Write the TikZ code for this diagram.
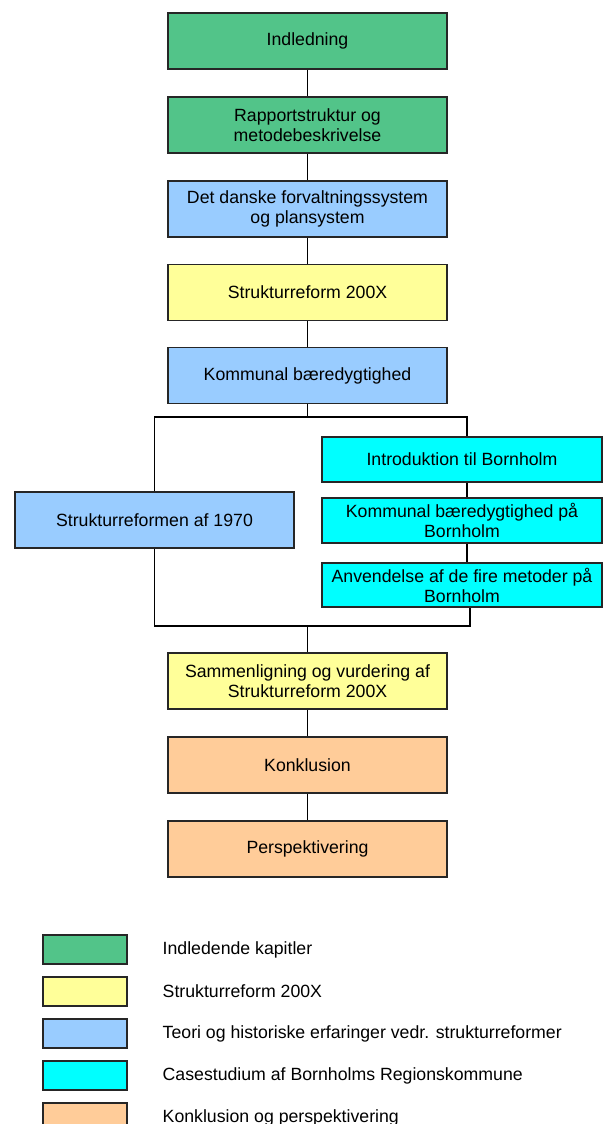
\documentclass[tikz,border=0pt]{standalone}
\usepackage{fontspec}
\setmainfont{Liberation Sans}
\definecolor{introgreen}{RGB}{82,196,137}
\definecolor{reformyellow}{RGB}{255,255,153}
\definecolor{theoryblue}{RGB}{153,204,255}
\definecolor{casecyan}{RGB}{0,255,255}
\definecolor{endorange}{RGB}{255,204,153}
\begin{document}
\begin{tikzpicture}[x=1pt,y=-1pt,
  chapter/.style={draw=black!85, line width=1.2pt, minimum width=279pt,
    minimum height=56pt, align=center, inner sep=2pt,
    font=\fontsize{17.7}{20}\selectfont},
  casebox/.style={chapter, fill=casecyan, minimum width=280pt, minimum height=45pt},
  link/.style={line width=1.2pt},
  swatch/.style={draw=black!85, line width=1.2pt, minimum width=84pt, minimum height=29pt},
  legtext/.style={anchor=west, inner sep=0pt, font=\fontsize{17.7}{20}\selectfont}]

\clip (0,0) rectangle (603,1124);
\fill[white] (0,0) rectangle (603,1124);

% main column
\node[chapter, fill=introgreen]   (ind)  at (307.5,41)  {Indledning};
\node[chapter, fill=introgreen]   (rap)  at (307.5,125) {Rapportstruktur og\\metodebeskrivelse};
\node[chapter, fill=theoryblue]   (det)  at (307.5,209) {Det danske forvaltningssystem\\og plansystem};
\node[chapter, fill=reformyellow] (s200) at (307.5,292.5) {Strukturreform 200X};
\node[chapter, fill=theoryblue]   (kom)  at (307.5,375.5) {Kommunal bæredygtighed};

% two parallel branches
\node[chapter, fill=theoryblue] (sr70) at (154.5,520) {Strukturreformen af 1970};
\node[casebox] (intro) at (462,459.5) {Introduktion til Bornholm};
\node[casebox] (kbh)   at (462,520.5) {Kommunal bæredygtighed på\\Bornholm};
\node[casebox, minimum height=44pt] (anv) at (462,585) {Anvendelse af de fire metoder på\\Bornholm};

% lower column
\node[chapter, fill=reformyellow] (samm)  at (307.5,681) {Sammenligning og vurdering af\\Strukturreform 200X};
\node[chapter, fill=endorange]    (konk)  at (307.5,765) {Konklusion};
\node[chapter, fill=endorange]    (persp) at (307.5,849) {Perspektivering};

\coordinate (split) at (307.5,417);
\coordinate (join)  at (307.5,626);

% connectors
\draw[link] (ind) -- (rap);
\draw[link] (rap) -- (det);
\draw[link] (det) -- (s200);
\draw[link] (s200) -- (kom);
\draw[link] (kom) -- (split);
\draw[link] (sr70.north) |- (split) -| ([xshift=5pt]intro.north);
\draw[link] ([xshift=5pt]intro.south) -- ([xshift=5pt]kbh.north);
\draw[link] ([xshift=5pt]kbh.south) -- ([xshift=5pt]anv.north);
\draw[link] (sr70.south) |- (join) -| ([xshift=8pt]anv.south);
\draw[link] (join) -- (samm);
\draw[link] (samm) -- (konk);
\draw[link] (konk) -- (persp);

% legend
\node[swatch, fill=introgreen]   (k1) at (85,949.5)  {};
\node[swatch, fill=reformyellow] (k2) at (85,991.5)  {};
\node[swatch, fill=theoryblue]   (k3) at (85,1033.5) {};
\node[swatch, fill=casecyan]     (k4) at (85,1075.5) {};
\node[swatch, fill=endorange]    (k5) at (85,1117.5) {};
\node[legtext] (t1) at (162.5,949.5)  {Indledende kapitler};
\node[legtext] (t2) at (162.5,991.5)  {Strukturreform 200X};
\node[legtext] (t3) at (162.5,1033.5) {Teori og historiske erfaringer vedr. strukturreformer};
\node[legtext] (t4) at (162.5,1075.5) {Casestudium af Bornholms Regionskommune};
\node[legtext] (t5) at (162.5,1117.5) {Konklusion og perspektivering};
\end{tikzpicture}
\end{document}
